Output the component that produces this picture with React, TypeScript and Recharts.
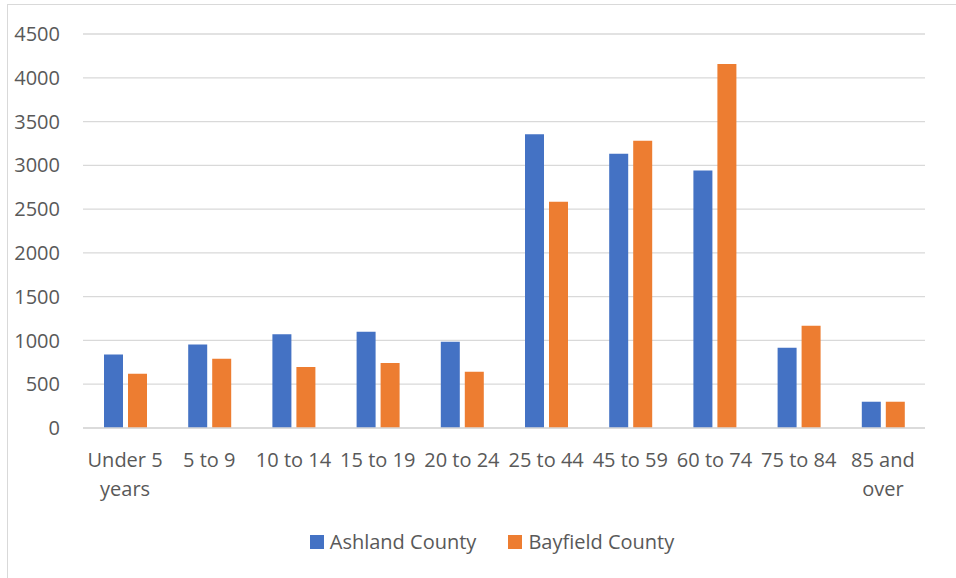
import React from 'react';
import { BarChart, Bar, XAxis, YAxis, CartesianGrid, Legend } from 'recharts';

const categories = ['Under 5 years', '5 to 9', '10 to 14', '15 to 19', '20 to 24', '25 to 44', '45 to 59', '60 to 74', '75 to 84', '85 and over'];
const ashland = [840, 955, 1072, 1098, 985, 3356, 3132, 2942, 916, 300];
const bayfield = [620, 790, 696, 741, 642, 2584, 3280, 4158, 1167, 300];
const yTicks = [0, 500, 1000, 1500, 2000, 2500, 3000, 3500, 4000, 4500];
const seriesNames = ['Ashland County', 'Bayfield County'];
const seriesColors = ['#4472C4', '#ED7D31'];

const data = categories.map((c, i) => ({ name: c, ashland: ashland[i], bayfield: bayfield[i] }));

const FONT = '"Open Sans", sans-serif';
const TEXT_COLOR = '#595959';

const wrapLabel = (s: string, max = 9): string[] => {
  const words = s.split(' ');
  const lines: string[] = [];
  let cur = '';
  for (const w of words) {
    if (cur && (cur + ' ' + w).length > max) {
      lines.push(cur);
      cur = w;
    } else {
      cur = cur ? cur + ' ' + w : w;
    }
  }
  if (cur) lines.push(cur);
  return lines;
};

const CategoryTick = (props: any) => {
  const { x, y, payload } = props;
  const lines = wrapLabel(String(payload.value));
  return (
    <g transform={`translate(${x},${y})`}>
      {lines.map((l, i) => (
        <text key={i} x={0} y={39 + i * 29} textAnchor="middle" fill={TEXT_COLOR} fontSize={20} fontFamily={FONT}>
          {l}
        </text>
      ))}
    </g>
  );
};

const LegendContent = () => (
  <div style={{ display: 'flex', justifyContent: 'center', alignItems: 'center', height: 24, fontFamily: FONT, fontSize: 20, color: TEXT_COLOR }}>
    {seriesNames.map((n, i) => (
      <div key={n} style={{ display: 'flex', alignItems: 'center', marginLeft: i === 0 ? 0 : 32 }}>
        <div style={{ width: 14, height: 14, background: seriesColors[i], marginRight: 6 }} />
        <span style={{ lineHeight: '24px', whiteSpace: 'nowrap' }}>{n}</span>
      </div>
    ))}
  </div>
);

export default function App() {
  return (
    <div style={{ position: 'absolute', left: 0, top: 0, width: 956, height: 578, overflow: 'hidden', background: '#fff' }}>
      <div style={{ position: 'absolute', left: 7, top: 4, width: 1000, height: 1000, border: '1px solid #d9d9d9', boxSizing: 'border-box' }} />
      <div style={{ position: 'absolute', left: 0, top: 0 }}>
        <BarChart width={956} height={578} data={data} margin={{ top: 34, right: 31, left: 0, bottom: 90 }} barGap={5} barSize={19}>
          <CartesianGrid vertical={false} stroke="#d9d9d9" strokeWidth={1.3} />
          <XAxis dataKey="name" height={60} tickSize={0} tickMargin={0} axisLine={{ stroke: '#d9d9d9', strokeWidth: 1.3 }} tickLine={false} tick={<CategoryTick />} interval={0} />
          <YAxis width={83} domain={[0, 4500]} ticks={yTicks} tickSize={0} tickMargin={23} axisLine={false} tickLine={false} tick={{ fill: TEXT_COLOR, fontSize: 20, fontFamily: FONT }} />
          <Legend verticalAlign="middle" align="center" layout="horizontal" content={<LegendContent />} wrapperStyle={{ top: 530, left: 14, width: 956 }} />
          <Bar dataKey="ashland" name={seriesNames[0]} fill={seriesColors[0]} isAnimationActive={false} />
          <Bar dataKey="bayfield" name={seriesNames[1]} fill={seriesColors[1]} isAnimationActive={false} />
        </BarChart>
      </div>
    </div>
  );
}
